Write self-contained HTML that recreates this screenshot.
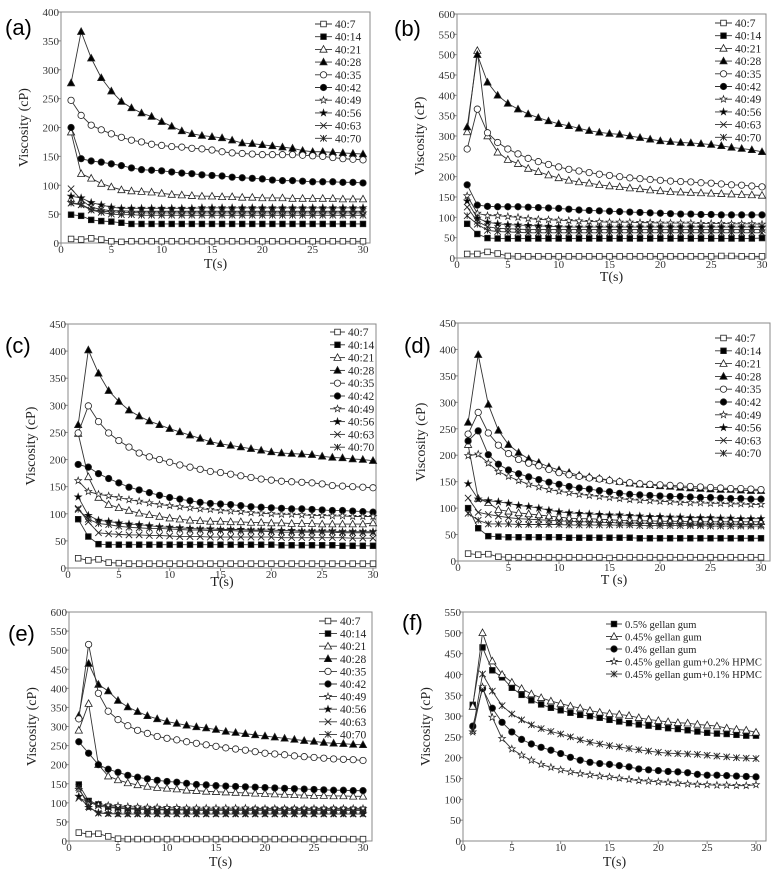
<!DOCTYPE html>
<html><head><meta charset="utf-8">
<style>
html,body{margin:0;padding:0;background:#fff;}
svg{display:block;}
text{font-family:"Liberation Serif",serif;}
.pl{font-family:"Liberation Sans",sans-serif;font-size:22px;fill:#000;}
</style></head>
<body>
<svg id="fig" width="776" height="877" viewBox="0 0 776 877" xmlns="http://www.w3.org/2000/svg"></svg>
<script>
const tValues = [1,2,3,4,5,6,7,8,9,10,11,12,13,14,15,16,17,18,19,20,21,22,23,24,25,26,27,28,29,30];
const ratioNames = ["40:7","40:14","40:21","40:28","40:35","40:42","40:49","40:56","40:63","40:70"];
const gellanNames = ["0.5% gellan gum","0.45% gellan gum","0.4% gellan gum","0.45% gellan gum+0.2% HPMC","0.45% gellan gum+0.1% HPMC"];
const xTicks = [0,5,10,15,20,25,30];

const dataA = [
[7,6,8,6,3,2,3,3,3,3,3,3,3,3,3,3,3,3,3,3,3,3,3,3,3,3,3,3,3,3],
[49,47,40,38,37,35,33,33,33,33,33,33,33,33,33,33,33,33,33,33,33,33,33,33,33,33,33,33,33,33],
[192,120,112,103,97,92,90,89,88,86,84,83,82,81,81,80,80,79,79,78,78,78,77,77,77,77,77,76,76,76],
[277,366,320,286,263,245,234,225,219,210,202,194,189,186,184,182,178,173,172,170,168,166,164,160,158,158,157,156,155,154],
[247,221,204,196,189,183,178,175,171,169,167,166,164,163,161,158,156,155,154,153,153,153,153,152,151,150,148,146,145,144],
[200,146,142,140,137,134,130,127,126,125,123,121,120,118,117,116,114,113,112,111,109,108,108,107,106,106,106,105,105,104],
[70,67,58,55,54,53,53,52,52,52,52,52,52,52,52,52,52,52,52,52,52,52,52,52,52,52,52,52,52,52],
[81,78,70,66,62,60,60,60,60,60,60,60,60,61,61,61,61,61,61,61,61,61,61,61,61,61,61,61,61,61],
[94,75,62,58,56,56,55,55,55,55,55,55,55,55,55,55,55,55,55,55,55,55,55,55,55,55,55,55,55,55],
[69,66,57,53,50,49,49,48,48,48,48,48,48,48,48,48,48,48,48,48,48,48,48,48,48,48,48,48,48,48]];
const dataB = [
[10,10,15,11,5,4,4,4,4,4,4,4,4,4,4,4,4,4,4,4,4,4,4,4,4,5,5,4,4,4],
[84,59,49,48,48,48,48,48,48,48,48,48,48,48,48,48,48,48,48,48,48,48,48,48,48,48,48,48,48,49],
[310,510,300,260,242,232,220,212,204,197,191,187,184,180,177,175,172,170,167,165,163,162,161,160,159,158,157,156,155,154],
[322,500,432,400,380,366,354,345,337,330,325,319,313,309,306,304,300,296,292,288,286,284,283,281,279,276,272,269,266,261],
[268,366,308,284,268,256,245,237,230,224,218,214,210,206,203,200,197,195,193,191,189,188,187,185,184,182,180,179,177,175],
[180,130,127,126,126,126,125,124,123,122,120,118,117,116,115,114,113,112,111,110,109,108,108,107,107,106,106,106,106,106],
[153,110,104,104,102,100,97,95,94,93,92,91,90,89,88,88,88,87,87,86,86,86,86,85,85,85,84,84,84,83],
[140,98,88,84,82,81,80,79,78,77,76,76,76,76,76,76,76,76,76,76,76,76,76,76,76,76,76,76,76,76],
[125,90,77,73,72,71,70,70,70,70,70,70,70,70,70,70,70,70,70,70,70,70,70,70,70,70,70,70,70,70],
[104,83,68,65,64,63,62,62,62,62,62,62,62,62,62,62,62,62,62,62,62,62,62,62,62,62,62,62,62,62]];
const dataC = [
[18,14,16,10,9,8,8,8,8,8,8,8,8,8,8,8,8,8,8,8,8,8,8,8,8,8,8,8,8,8],
[90,58,44,43,43,43,43,43,43,43,43,43,43,43,43,43,43,43,43,43,42,42,42,42,42,42,41,41,41,41],
[248,168,130,117,111,106,101,98,95,92,90,88,87,86,86,85,85,84,84,83,83,82,82,82,81,81,81,81,81,83],
[264,402,359,327,307,291,280,271,264,257,251,245,239,233,229,226,223,220,217,214,212,211,210,209,206,204,203,201,200,198],
[249,299,270,249,235,223,212,205,200,195,190,186,182,178,176,173,170,167,164,162,160,159,158,157,155,152,151,150,149,148],
[191,186,174,165,157,149,144,139,134,130,127,124,121,119,118,117,115,113,112,111,110,109,109,108,107,106,106,105,104,103],
[161,141,136,133,130,126,123,120,117,115,113,111,109,108,106,105,104,102,101,100,99,99,98,97,97,96,96,95,95,95],
[131,97,88,86,83,81,80,78,76,75,74,73,72,72,71,71,71,70,70,70,69,69,68,68,68,68,67,67,67,67],
[110,85,65,63,62,61,61,60,60,59,58,58,58,57,57,57,57,57,57,57,56,56,56,56,56,56,56,55,55,55],
[108,90,82,80,77,75,74,73,73,72,71,70,70,69,69,69,68,68,68,67,66,66,66,66,66,66,65,65,65,65]];
const dataD = [
[14,12,13,8,7,7,7,7,7,7,7,7,7,7,6,7,7,7,7,7,7,7,7,7,7,7,7,7,7,7],
[100,62,47,46,45,45,45,45,45,45,44,44,44,44,44,44,44,43,43,43,43,43,43,43,43,43,43,43,43,43],
[220,118,110,97,94,91,89,87,85,83,81,80,80,79,78,77,76,76,76,75,75,75,74,74,74,74,74,74,74,74],
[262,390,296,247,220,205,193,186,178,172,167,162,159,156,153,150,147,145,144,142,141,139,138,137,136,135,135,134,133,133],
[240,281,242,219,203,192,185,180,173,167,163,160,157,155,152,150,148,146,145,144,143,142,141,140,139,138,137,137,136,135],
[227,246,201,183,172,165,159,154,149,145,141,138,136,133,131,128,126,125,124,123,122,122,121,120,120,119,118,118,117,117],
[199,202,185,169,160,152,145,140,135,132,129,126,124,122,120,118,116,115,114,113,112,111,110,110,109,109,108,108,107,107],
[146,117,114,112,109,105,103,100,96,93,91,90,89,88,87,87,86,85,84,84,83,83,82,82,82,81,81,80,80,80],
[119,92,88,85,82,80,79,78,77,76,75,74,74,73,73,72,72,72,71,71,71,71,70,70,70,70,70,69,69,69],
[90,77,70,70,70,69,69,69,69,69,68,68,68,68,68,68,68,67,67,67,67,67,67,67,66,66,66,66,66,66]];
const dataE = [
[22,18,19,12,6,5,5,5,5,5,5,5,5,5,5,5,5,5,5,5,5,5,5,5,5,5,5,5,5,5],
[148,105,96,90,88,86,85,84,84,83,83,82,82,82,82,82,82,82,82,82,82,82,82,82,82,82,82,82,82,82],
[290,360,200,170,160,152,147,143,140,138,136,133,132,130,129,128,127,126,125,124,123,122,121,120,119,119,118,118,117,117],
[328,465,410,393,368,351,339,328,320,313,308,303,299,296,292,287,284,281,278,275,272,269,266,263,261,258,256,255,253,252],
[320,515,387,340,318,302,290,282,274,269,265,260,256,252,248,244,241,238,234,230,228,226,223,221,219,217,215,214,213,211],
[260,230,200,188,180,172,167,163,159,156,154,151,148,147,145,144,143,142,141,140,139,138,137,136,135,134,133,133,132,132],
[135,100,95,93,92,90,89,88,88,87,87,86,86,86,86,86,86,86,85,85,85,85,85,85,85,85,85,85,85,85],
[117,88,74,72,71,71,71,71,71,71,71,71,71,71,71,71,71,71,71,71,71,71,71,71,71,71,71,71,71,71],
[112,103,92,88,86,84,83,82,82,81,81,81,80,80,80,80,80,80,80,80,80,80,80,80,80,80,80,80,80,80],
[140,90,73,72,71,71,71,71,71,71,71,71,71,71,71,71,71,71,71,71,71,71,71,71,71,71,71,71,71,71]];
const dataF = [
[327,465,410,393,368,351,338,328,320,314,308,303,300,296,291,287,283,280,277,274,271,269,266,263,260,258,257,255,253,253],
[323,500,432,400,381,366,353,344,336,330,324,319,313,309,306,304,301,296,292,289,286,284,283,280,278,276,271,268,266,261],
[276,366,319,285,262,244,233,225,218,210,201,194,189,186,184,181,178,173,171,169,167,166,164,160,158,158,157,156,155,154],
[262,370,297,246,221,206,194,184,177,171,166,162,159,156,154,151,148,145,144,142,141,139,137,136,135,134,134,133,133,135],
[265,401,360,325,305,291,279,270,263,257,250,243,237,233,229,226,222,219,216,213,211,210,209,208,206,204,202,200,199,198]];

const ratioMarkers = ["sqO","sqF","triO","triF","cirO","cirF","starO","starF","x","ast"];
const gellanMarkers = ["sqF","triO","cirF","starO","ast"];

const panels = [
 {id:"a",data:dataA,names:ratioNames,mk:ratioMarkers,x0:61,x30:363,right:370,top:12,y0:243,ymax:400,ystep:50,lx:315,lw:17,ly:24,ldy:12.7,lab:[5,35],tt:268,fs:11.5},
 {id:"b",data:dataB,names:ratioNames,mk:ratioMarkers,x0:457,x30:762,right:766,top:14,y0:258,ymax:600,ystep:50,lx:715,lw:17,ly:23,ldy:12.7,lab:[394,36],tt:281,fs:11.5},
 {id:"c",data:dataC,names:ratioNames,mk:ratioMarkers,x0:68,x30:373,right:376,top:324,y0:568,ymax:450,ystep:50,lx:330,lw:15,ly:332,ldy:12.8,lab:[5,353],tt:586,fs:11.5},
 {id:"d",data:dataD,names:ratioNames,mk:ratioMarkers,x0:458,x30:761,right:770,top:323,y0:561,ymax:450,ystep:50,lx:715,lw:17,ly:338,ldy:12.8,lab:[404,353],tt:584,fs:11.5},
 {id:"e",data:dataE,names:ratioNames,mk:ratioMarkers,x0:69,x30:363,right:372,top:612,y0:841,ymax:600,ystep:50,lx:319,lw:18,ly:621,ldy:12.6,lab:[8,641],tt:866,fs:11.5},
 {id:"f",data:dataF,names:gellanNames,mk:gellanMarkers,x0:463,x30:756,right:766,top:612,y0:841,ymax:550,ystep:50,lx:606,lw:16,ly:624,ldy:12.5,lab:[402,630],tt:866,fs:10.5}
];

const NS="http://www.w3.org/2000/svg";
const svg=document.getElementById("fig");
function mk(tag,attrs,parent){const e=document.createElementNS(NS,tag);for(const k in attrs)e.setAttribute(k,attrs[k]);(parent||svg).appendChild(e);return e;}

function marker(type,cx,cy,g){
  const r=3.2, st="#222";
  let e;
  if(type==="sqO"||type==="sqF"){e=mk("rect",{x:cx-r+0.4,y:cy-r+0.4,width:2*r-0.8,height:2*r-0.8,fill:type==="sqF"?"#000":"#fff",stroke:st,"stroke-width":0.8},g);}
  else if(type==="triO"||type==="triF"){e=mk("polygon",{points:`${cx},${cy-r-0.6} ${cx+r+0.4},${cy+r-0.4} ${cx-r-0.4},${cy+r-0.4}`,fill:type==="triF"?"#000":"#fff",stroke:st,"stroke-width":0.8},g);}
  else if(type==="cirO"||type==="cirF"){e=mk("circle",{cx:cx,cy:cy,r:r,fill:type==="cirF"?"#000":"#fff",stroke:st,"stroke-width":0.8},g);}
  else if(type==="starO"||type==="starF"){let p=[];for(let i=0;i<10;i++){const a=-Math.PI/2+i*Math.PI/5;const rr=i%2?r*0.45:r+0.4;p.push((cx+rr*Math.cos(a)).toFixed(2)+","+(cy+rr*Math.sin(a)).toFixed(2));}
    e=mk("polygon",{points:p.join(" "),fill:type==="starF"?"#000":"#fff",stroke:st,"stroke-width":0.7},g);}
  else {e=mk("path",{d:`M${cx-r},${cy-r}L${cx+r},${cy+r}M${cx-r},${cy+r}L${cx+r},${cy-r}`+(type==="ast"?`M${cx},${cy-r}L${cx},${cy+r}`:""),stroke:st,"stroke-width":0.9,fill:"none"},g);}
  
  
  return e;
}

panels.forEach(p=>{
  const g=mk("g",{});
  
  
  const xs=t=>p.x0+(p.x30-p.x0)*t/30;
  const ys=v=>p.y0-(p.y0-p.top)*v/p.ymax;
  const frame=mk("rect",{x:p.x0,y:p.top,width:p.right-p.x0,height:p.y0-p.top,fill:"none",stroke:"#888","stroke-width":1},g);
  
  
  for(let v=0;v<=p.ymax;v+=p.ystep){
    const y=ys(v);
    mk("line",{x1:p.x0-3,x2:p.x0,y1:y,y2:y,stroke:"#888","stroke-width":1},g);
    const t=mk("text",{x:p.x0-2,y:y+4,"text-anchor":"end","font-size":11,fill:"#333"},g);
    t.textContent=v;
    
    
  }
  xTicks.forEach(v=>{
    const x=xs(v);
    mk("line",{x1:x,x2:x,y1:p.y0,y2:p.y0+3,stroke:"#888","stroke-width":1},g);
    const t=mk("text",{x:x,y:p.y0+10,"text-anchor":"middle","font-size":11,fill:"#333"},g);
    t.textContent=v;
    
    
  });
  const xt=mk("text",{x:(p.x0+p.right)/2,y:p.tt,"text-anchor":"middle","font-size":14,fill:"#222"},g);
  xt.textContent=p.id==="d"?"T (s)":"T(s)";
  
  
  const ycx=p.x0-33, ycy=(p.top+p.y0)/2;
  const yt=mk("text",{x:ycx,y:ycy,"text-anchor":"middle","font-size":14,fill:"#222",transform:`rotate(-90 ${ycx} ${ycy})`},g);
  yt.textContent="Viscosity (cP)";
  
  
  const pl=mk("text",{x:p.lab[0],y:p.lab[1],class:"pl"},g);
  pl.textContent="("+p.id+")";
  
  
  p.data.forEach((ser,si)=>{
    const sg=mk("g",{},g);
    
    
    const pts=ser.map((v,i)=>xs(tValues[i]).toFixed(2)+","+ys(v).toFixed(2)).join(" ");
    const ln=mk("polyline",{points:pts,fill:"none",stroke:"#333","stroke-width":0.9},sg);
    
    
    ser.forEach((v,i)=>marker(p.mk[si],xs(tValues[i]),ys(v),sg));
    const ly=p.ly+si*p.ldy;
    const lg=mk("g",{},g);
    
    
    mk("line",{x1:p.lx,x2:p.lx+p.lw,y1:ly,y2:ly,stroke:"#333","stroke-width":0.9},lg);
    marker(p.mk[si],p.lx+p.lw/2,ly,lg);
    const lt=mk("text",{x:p.lx+p.lw+3,y:ly+4,"font-size":p.fs,fill:"#222"},lg);
    lt.textContent=p.names[si];
  });
});
</script>
</body></html>
